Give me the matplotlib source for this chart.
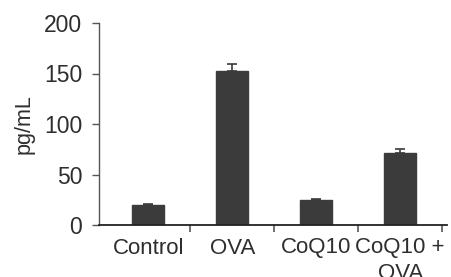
import matplotlib
matplotlib.use("Agg")
import matplotlib.pyplot as plt
import numpy as np

categories = ["Control", "OVA", "CoQ10", "CoQ10 +\nOVA"]
values = [20, 152.5, 24.5, 71]
errors = [1.2, 7, 1.2, 4]
yticks = [0, 50, 100, 150, 200]

plt.rcParams['font.family'] = ['Liberation Sans', 'DejaVu Sans']
text_color = "#2e2e2e"
axis_color = "#555555"

fig = plt.figure(figsize=(4.51, 2.77), dpi=100)
ax = fig.add_axes([99/451, 52/277, 348/451, 202/277])

x = np.arange(len(categories))
ax.bar(x, values, width=0.38, color="#3b3b3b", edgecolor="#3b3b3b", zorder=2)
ax.errorbar(x, values, yerr=[np.zeros(len(errors)), errors], fmt="none",
            ecolor="#3b3b3b", elinewidth=1.2, capsize=3.5, capthick=1.2, zorder=3)

ax.set_xlim(-0.586, 3.557)
ax.set_ylim(0, 200)
ax.set_yticks(yticks)
ax.set_yticklabels([str(v) for v in yticks])
ax.set_xticks(x)
ax.set_xticklabels(categories, linespacing=1.3)
ax.set_xticks(np.arange(0.5, 4.0, 1.0), minor=True)
ax.tick_params(axis='x', which='major', length=0, pad=9, labelsize=16, colors=text_color)
ax.tick_params(axis='x', which='minor', length=5, width=1.2, direction='out', color=axis_color)
ax.tick_params(axis='y', which='major', length=5, width=1.0, direction='out', pad=7,
               labelsize=16.5, colors=text_color, color=axis_color)

for side in ["top", "right"]:
    ax.spines[side].set_visible(False)
ax.spines["left"].set_color(axis_color)
ax.spines["left"].set_linewidth(1.0)
ax.spines["bottom"].set_color("#222222")
ax.spines["bottom"].set_linewidth(1.3)

ax.set_ylabel("pg/mL", fontsize=15.5, color=text_color, labelpad=7)

fig.savefig("out.png", dpi=100)
